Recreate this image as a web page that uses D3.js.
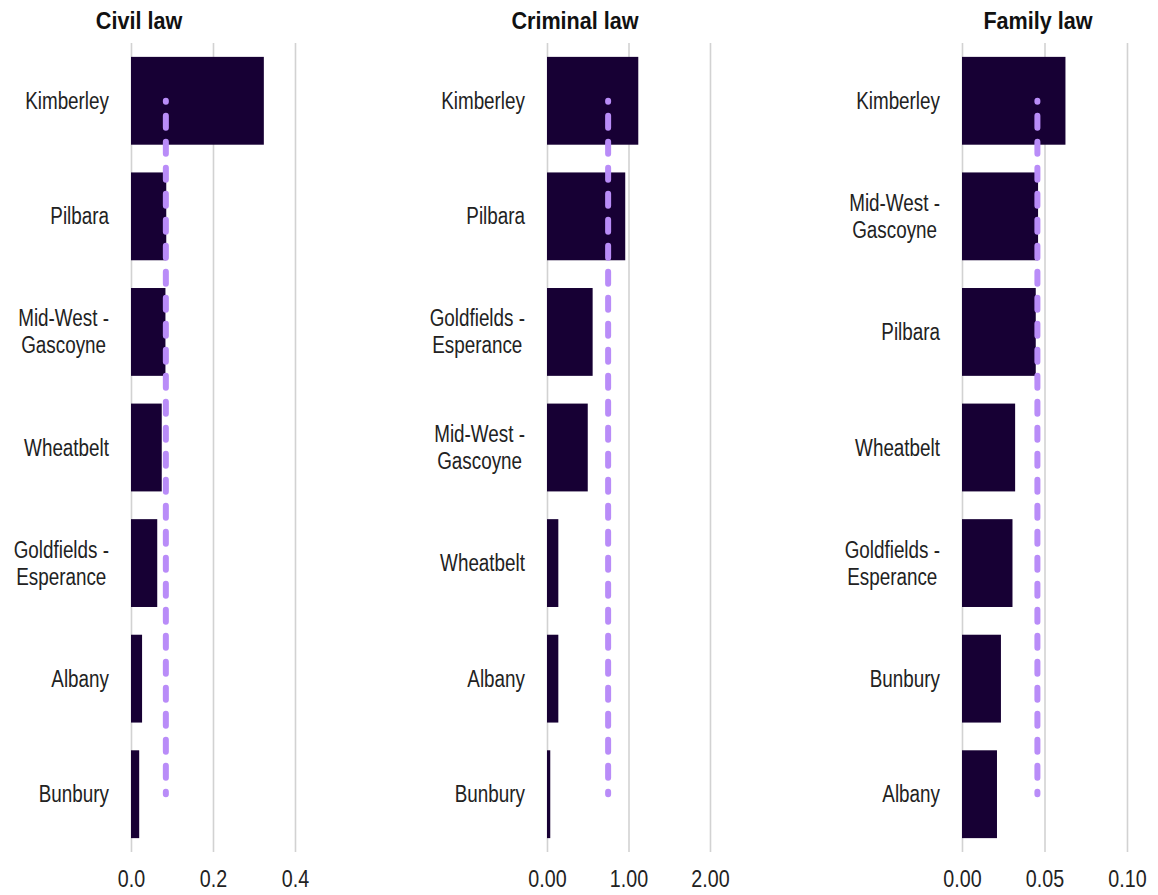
<!DOCTYPE html>
<html>
<head>
<meta charset="utf-8">
<script src="https://cdn.jsdelivr.net/npm/d3@7/dist/d3.min.js"></script>
<style>
  body { margin: 0; background: #fff; }
  svg text { font-family: "Liberation Sans", Arial, sans-serif; fill: #222; }
</style>
</head>
<body>
<div id="chart"></div>
<script>
// values
const civilRegions = ["Kimberley", "Pilbara", "Mid-West - Gascoyne", "Wheatbelt", "Goldfields - Esperance", "Albany", "Bunbury"];
const civilValues = [0.324, 0.086, 0.084, 0.075, 0.064, 0.027, 0.020];
const civilAverage = 0.085;
const civilTicks = [0, 0.2, 0.4];
const civilTickLabels = ["0.0", "0.2", "0.4"];

const criminalRegions = ["Kimberley", "Pilbara", "Goldfields - Esperance", "Mid-West - Gascoyne", "Wheatbelt", "Albany", "Bunbury"];
const criminalValues = [1.12, 0.96, 0.56, 0.50, 0.139, 0.139, 0.04];
const criminalAverage = 0.75;
const criminalTicks = [0, 1, 2];
const criminalTickLabels = ["0.00", "1.00", "2.00"];

const familyRegions = ["Kimberley", "Mid-West - Gascoyne", "Pilbara", "Wheatbelt", "Goldfields - Esperance", "Bunbury", "Albany"];
const familyValues = [0.0627, 0.0461, 0.0447, 0.0322, 0.0306, 0.0236, 0.0212];
const familyAverage = 0.0457;
const familyTicks = [0, 0.05, 0.10];
const familyTickLabels = ["0.00", "0.05", "0.10"];

const W = 1158, H = 895;
const plotTop = 43, plotBottom = 852;
const narrow = 0.82;   // fake "Arial Narrow" by squeezing Liberation Sans

const svg = d3.select("#chart").append("svg")
    .attr("width", W)
    .attr("height", H);

const panels = [
  { title: "Civil law", regions: civilRegions, values: civilValues, avg: civilAverage,
    ticks: civilTicks, tickLabels: civilTickLabels, x0: 131, x1: 295, titleX: 139 },
  { title: "Criminal law", regions: criminalRegions, values: criminalValues, avg: criminalAverage,
    ticks: criminalTicks, tickLabels: criminalTickLabels, x0: 547, x1: 710, titleX: 575 },
  { title: "Family law", regions: familyRegions, values: familyValues, avg: familyAverage,
    ticks: familyTicks, tickLabels: familyTickLabels, x0: 962, x1: 1127, titleX: 1038 }
];

panels.forEach(function(p) {
    const data = p.regions.map((r, i) => ({ region: r, value: p.values[i] }));

    const x = d3.scaleLinear()
        .domain([p.ticks[0], p.ticks[p.ticks.length - 1]])
        .range([p.x0, p.x1]);
    const y = d3.scaleBand()
        .domain(p.regions)
        .range([plotTop, plotBottom])
        .paddingInner(0.24)
        .paddingOuter(0.12);

    const g = svg.append("g");

    // gridlines + tick labels
    const axis = g.append("g")
        .attr("transform", `translate(0,${plotBottom})`)
        .call(d3.axisBottom(x)
            .tickValues(p.ticks)
            .tickFormat((d, i) => p.tickLabels[i])
            .tickSizeInner(-(plotBottom - plotTop))
            .tickSizeOuter(0)
            .tickPadding(18));
    axis.select(".domain").remove();
    axis.selectAll(".tick line")
        .attr("stroke", "#d2d2d2")
        .attr("stroke-width", 1.6);
    axis.selectAll(".tick text")
        .attr("fill", "#222")
        .attr("transform", `scale(${narrow},1)`)
        .style("font-family", "'Liberation Sans', Arial, sans-serif")
        .style("font-size", "24px");

    // bars
    g.selectAll(".bar")
        .data(data)
        .enter().append("rect")
        .attr("class", "bar")
        .attr("x", x(0))
        .attr("y", d => y(d.region))
        .attr("width", d => x(d.value) - x(0))
        .attr("height", y.bandwidth())
        .attr("fill", "#170034");

    // category labels (wrapped at " - ")
    const labelRight = p.x0 - 22;
    data.forEach(function(d) {
        const parts = d.region.includes(" - ")
            ? [d.region.split(" - ")[0] + " -", d.region.split(" - ")[1]]
            : [d.region];
        const cy = y(d.region) + y.bandwidth() / 2;
        const lineH = 27;
        const texts = parts.map(function(t, i) {
            return g.append("text")
                .attr("dy", "0.35em")
                .attr("text-anchor", "middle")
                .style("font-size", "23px")
                .datum(cy + (i - (parts.length - 1) / 2) * lineH)
                .text(t);
        });
        const maxW = d3.max(texts, t => t.node().getComputedTextLength()) * narrow;
        texts.forEach(t => t.attr("transform",
            `translate(${labelRight - maxW / 2},${t.datum()}) scale(${narrow},1)`));
    });

    // average dashed line
    const yTop = y(p.regions[0]) + y.bandwidth() / 2;
    const yBot = y(p.regions[p.regions.length - 1]) + y.bandwidth() / 2;
    g.append("line")
        .attr("x1", x(p.avg)).attr("x2", x(p.avg))
        .attr("y1", yTop).attr("y2", yBot)
        .attr("stroke", "#b98cf8")
        .attr("stroke-width", 6)
        .attr("stroke-linecap", "round")
        .attr("stroke-dasharray", "12,14")
        .attr("stroke-dashoffset", 11);

    // title
    g.append("text")
        .attr("transform", `translate(${p.titleX},29) scale(0.9,1)`)
        .attr("text-anchor", "middle")
        .style("font-size", "24px")
        .style("font-weight", "bold")
        .style("fill", "#111")
        .text(p.title);
});
</script>
</body>
</html>
